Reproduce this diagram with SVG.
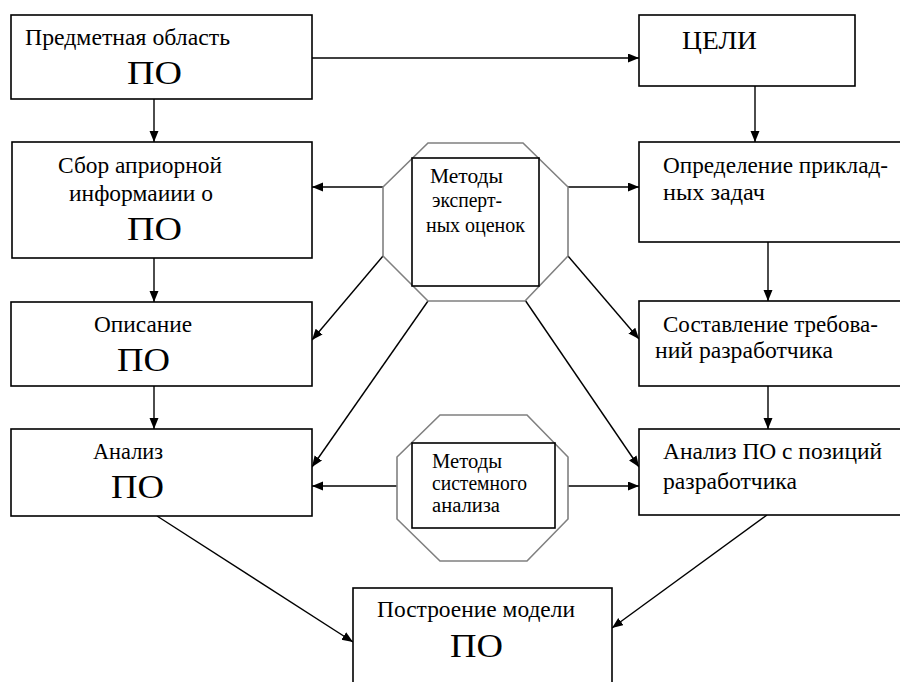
<svg xmlns="http://www.w3.org/2000/svg" width="900" height="682" viewBox="0 0 900 682">
<style>
.box{fill:#fff;stroke:#000;stroke-width:1.6}
.oct{fill:#fff;stroke:#808080;stroke-width:1.6}
.inner{fill:#fff;stroke:#000;stroke-width:1.6}
.t{font-family:"Liberation Serif","DejaVu Serif",serif;font-size:23px;fill:#000}
.m{font-family:"Liberation Serif","DejaVu Serif",serif;font-size:20px;fill:#000}
.big{font-family:"Liberation Serif","DejaVu Serif",serif;font-size:34px;fill:#000}
.c{fill:none;stroke:#000;stroke-width:1.4}
</style>
<defs>
<marker id="ah" markerUnits="userSpaceOnUse" markerWidth="12" markerHeight="10" refX="11" refY="4.5" orient="auto">
<path d="M0,0 L11,4.5 L0,9 z" fill="#000"/>
</marker>
</defs>
<rect width="900" height="682" fill="#fff"/>
<g id="connectors">
<line class="c" x1="312" y1="58" x2="639" y2="58" marker-end="url(#ah)"/>
<line class="c" x1="154" y1="99" x2="154" y2="142" marker-end="url(#ah)"/>
<line class="c" x1="755" y1="86" x2="755" y2="142" marker-end="url(#ah)"/>
<line class="c" x1="154" y1="258" x2="154" y2="302" marker-end="url(#ah)"/>
<line class="c" x1="768" y1="242" x2="768" y2="301" marker-end="url(#ah)"/>
<line class="c" x1="154" y1="386" x2="154" y2="429" marker-end="url(#ah)"/>
<line class="c" x1="768" y1="386" x2="768" y2="429" marker-end="url(#ah)"/>
<line class="c" x1="383" y1="187" x2="312" y2="187" marker-end="url(#ah)"/>
<line class="c" x1="568" y1="187" x2="639" y2="187" marker-end="url(#ah)"/>
<line class="c" x1="383" y1="256" x2="312" y2="340" marker-end="url(#ah)"/>
<line class="c" x1="428" y1="301" x2="312" y2="467" marker-end="url(#ah)"/>
<line class="c" x1="568" y1="256" x2="639" y2="339" marker-end="url(#ah)"/>
<line class="c" x1="525" y1="300" x2="639" y2="467" marker-end="url(#ah)"/>
<line class="c" x1="397" y1="486" x2="312" y2="486" marker-end="url(#ah)"/>
<line class="c" x1="568" y1="486" x2="639" y2="486" marker-end="url(#ah)"/>
<line class="c" x1="157" y1="516" x2="353" y2="642" marker-end="url(#ah)"/>
<line class="c" x1="767" y1="515" x2="612" y2="628" marker-end="url(#ah)"/>
</g>
<g id="n-predmet">
<rect class="box" x="11" y="15" width="301" height="84"/>
<text class="t" x="25" y="45" textLength="205" lengthAdjust="spacingAndGlyphs">Предметная область</text>
<text class="big" x="127" y="84" textLength="55" lengthAdjust="spacingAndGlyphs">ПО</text>
</g>
<g id="n-celi">
<rect class="box" x="639" y="15" width="216" height="71"/>
<text class="t" x="682" y="49" textLength="75" lengthAdjust="spacingAndGlyphs" style="font-size:25px">ЦЕЛИ</text>
</g>
<g id="n-sbor">
<rect class="box" x="12" y="142" width="300" height="116"/>
<text class="t" x="58" y="173" textLength="164" lengthAdjust="spacingAndGlyphs">Сбор априорной</text>
<text class="t" x="69" y="201" textLength="144" lengthAdjust="spacingAndGlyphs">информаиии о</text>
<text class="big" x="127" y="240" textLength="55" lengthAdjust="spacingAndGlyphs">ПО</text>
</g>
<g id="n-opred">
<rect class="box" x="639" y="142" width="270" height="100"/>
<text class="t" x="663" y="173" textLength="225" lengthAdjust="spacingAndGlyphs">Определение приклад-</text>
<text class="t" x="663" y="200" textLength="102" lengthAdjust="spacingAndGlyphs">ных задач</text>
</g>
<g id="n-opisanie">
<rect class="box" x="11" y="302" width="301" height="84"/>
<text class="t" x="94" y="332" textLength="98" lengthAdjust="spacingAndGlyphs">Описание</text>
<text class="big" x="117" y="371" textLength="53" lengthAdjust="spacingAndGlyphs">ПО</text>
</g>
<g id="n-sostav">
<rect class="box" x="639" y="301" width="270" height="85"/>
<text class="t" x="663" y="332" textLength="215" lengthAdjust="spacingAndGlyphs">Составление требова-</text>
<text class="t" x="655" y="358" textLength="178" lengthAdjust="spacingAndGlyphs">ний разработчика</text>
</g>
<g id="n-analiz">
<rect class="box" x="11" y="429" width="301" height="87"/>
<text class="t" x="93" y="459" textLength="70" lengthAdjust="spacingAndGlyphs">Анализ</text>
<text class="big" x="111" y="498" textLength="53" lengthAdjust="spacingAndGlyphs">ПО</text>
</g>
<g id="n-analiz-razr">
<rect class="box" x="639" y="429" width="270" height="86"/>
<text class="t" x="663" y="459" textLength="219" lengthAdjust="spacingAndGlyphs">Анализ ПО с позиций</text>
<text class="t" x="663" y="489" textLength="134" lengthAdjust="spacingAndGlyphs">разработчика</text>
</g>
<g id="n-ekspert">
<polygon class="oct" points="428,143 523,143 568,187 568,256 525,301 428,301 383,256 383,187"/>
<rect class="inner" x="412" y="158" width="127" height="128"/>
<text class="m" x="430" y="183" textLength="73" lengthAdjust="spacingAndGlyphs">Методы</text>
<text class="m" x="432" y="207" textLength="70" lengthAdjust="spacingAndGlyphs">эксперт-</text>
<text class="m" x="426" y="232" textLength="99" lengthAdjust="spacingAndGlyphs">ных оценок</text>
</g>
<g id="n-sistem">
<polygon class="oct" points="440,415 527,415 568,457 568,519 527,561 440,561 397,519 397,457"/>
<rect class="inner" x="412" y="443" width="143" height="85"/>
<text class="m" x="432" y="468" textLength="70" lengthAdjust="spacingAndGlyphs">Методы</text>
<text class="m" x="432" y="490" textLength="95" lengthAdjust="spacingAndGlyphs">системного</text>
<text class="m" x="432" y="512" textLength="68" lengthAdjust="spacingAndGlyphs">анализа</text>
</g>
<g id="n-model">
<rect class="box" x="353" y="588" width="259" height="110"/>
<text class="t" x="377" y="617" textLength="198" lengthAdjust="spacingAndGlyphs">Построение модели</text>
<text class="big" x="450" y="657" textLength="53" lengthAdjust="spacingAndGlyphs">ПО</text>
</g>
</svg>
